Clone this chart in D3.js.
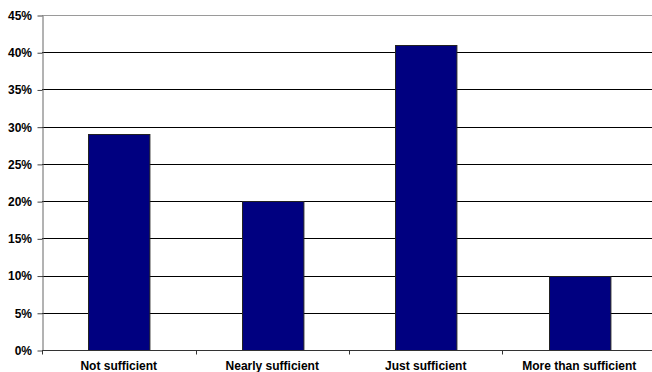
<!DOCTYPE html>
<html>
<head>
<meta charset="utf-8">
<script src="https://cdn.jsdelivr.net/npm/d3@7"></script>
<style>
  html, body { margin: 0; padding: 0; background: #fff; }
  svg { display: block; }
  text { font-family: "Liberation Sans", Arial, sans-serif; font-weight: bold; }
</style>
</head>
<body>
<svg id="chart" width="652" height="372"></svg>
<script>
// Share of respondents by sufficiency rating
const categories = ["Not sufficient", "Nearly sufficient", "Just sufficient", "More than sufficient"];
const values = [0.29, 0.20, 0.41, 0.10];
const yTicks = [0, 0.05, 0.10, 0.15, 0.20, 0.25, 0.30, 0.35, 0.40, 0.45];

const svg = d3.select("#chart");
const plotLeft = 42, plotRight = 656, plotTop = 15, plotBottom = 350;

const x = d3.scaleBand()
  .domain(categories)
  .range([plotLeft, plotRight])
  .paddingInner(0.6)
  .paddingOuter(0.3);

const y = d3.scaleLinear().domain([0, 0.45]).range([plotBottom, plotTop]);

// horizontal gridlines
svg.append("g")
  .selectAll("line")
  .data(yTicks.filter(d => d > 0))
  .join("line")
  .attr("x1", plotLeft)
  .attr("x2", plotRight)
  .attr("y1", d => Math.round(y(d)) + 0.5)
  .attr("y2", d => Math.round(y(d)) + 0.5)
  .attr("stroke", d => d === 0.45 ? "#9a9a9a" : "#000")
  .attr("stroke-width", 1);

// bars
svg.append("g")
  .selectAll("rect")
  .data(values)
  .join("rect")
  .attr("x", (d, i) => Math.round(x(categories[i])) + 0.5)
  .attr("y", d => Math.round(y(d)) + 0.5)
  .attr("width", x.bandwidth())
  .attr("height", d => Math.round(y(0)) - Math.round(y(d)))
  .attr("fill", "#000080")
  .attr("stroke", "#222")
  .attr("stroke-width", 1);

// y axis
const yAxis = d3.axisLeft(y)
  .tickValues(yTicks)
  .tickFormat(d3.format(".0%"))
  .tickSizeInner(5)
  .tickSizeOuter(0)
  .tickPadding(5.5);
const gy = svg.append("g")
  .attr("transform", `translate(${plotLeft + 0.5},0.5)`)
  .call(yAxis);
gy.select(".domain").attr("stroke", "#666");
gy.selectAll(".tick line").attr("stroke", "#444");
gy.selectAll(".tick text")
  .attr("font-size", 12)
  .attr("font-family", "Liberation Sans, Arial, sans-serif")
  .attr("font-weight", "bold")
  .attr("fill", "#000");

// x axis: ticks sit on category boundaries, labels centred in each band
const gx = svg.append("g").attr("transform", `translate(0,${plotBottom + 0.5})`);
gx.append("line")
  .attr("x1", plotLeft).attr("x2", plotRight)
  .attr("stroke", "#333");
const step = x.step();
const boundaries = categories.map((c, i) => x(c) - (step - x.bandwidth()) / 2).concat([plotRight]);
gx.selectAll("line.tick")
  .data(boundaries)
  .join("line")
  .attr("class", "tick")
  .attr("x1", d => Math.round(d) + 0.5)
  .attr("x2", d => Math.round(d) + 0.5)
  .attr("y1", 0)
  .attr("y2", 4)
  .attr("stroke", "#333");
gx.selectAll("text")
  .data(categories)
  .join("text")
  .attr("x", d => x(d) + x.bandwidth() / 2)
  .attr("y", 19.5)
  .attr("text-anchor", "middle")
  .attr("font-size", 12)
  .attr("fill", "#000")
  .text(d => d);
</script>
</body>
</html>
